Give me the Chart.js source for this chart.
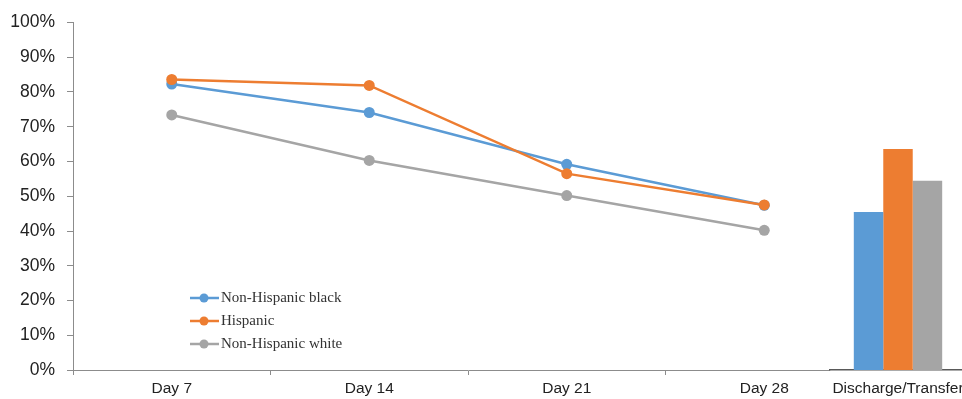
<!DOCTYPE html>
<html>
<head>
<meta charset="utf-8">
<script src="https://cdn.jsdelivr.net/npm/chart.js@4.4.1/dist/chart.umd.min.js"></script>
<style>
  html, body { margin: 0; padding: 0; background: #fff; overflow: hidden; }
  #wrap { position: relative; width: 962px; height: 399px; overflow: hidden; }
  #lineBox { position: absolute; left: 0; top: 0; }
  #barBox { position: absolute; left: 819px; top: 0; }
</style>
</head>
<body>
<div id="wrap">
  <div id="lineBox"><canvas id="lineChart" width="962" height="399"></canvas></div>
  <div id="barBox"><canvas id="barChart" width="158" height="399"></canvas></div>
</div>
<script>
// --- DATA ---
const days = ['Day 7', 'Day 14', 'Day 21', 'Day 28'];
const seriesNames = ['Non-Hispanic black', 'Hispanic', 'Non-Hispanic white'];
const seriesColors = ['#5B9BD5', '#ED7D31', '#A5A5A5'];
const blackValues = [82.3, 74.1, 59.2, 47.4];
const hispanicValues = [83.6, 81.9, 56.5, 47.5];
const whiteValues = [73.4, 60.3, 50.2, 40.2];
const dischargeLabels = ['Discharge/Transfer'];
const dischargeBlack = [45.4];
const dischargeHispanic = [63.5];
const dischargeWhite = [54.4];

const SANS = '"Liberation Sans", Arial, sans-serif';
const SERIF = '"Liberation Serif", "Times New Roman", serif';
const AXIS = '#8c8c8c';

Chart.defaults.animation = false;
Chart.defaults.font.family = SANS;
Chart.defaults.color = '#222';

// --- LEGEND (line + dot, inside plot area) ---
const lineLegend = {
    id: 'lineLegend',
    afterDraw(chart) {
        const ctx = chart.ctx;
        const x0 = 190, y0 = 298, gap = 23;
        ctx.save();
        chart.data.datasets.forEach((ds, i) => {
            const y = y0 + i * gap;
            ctx.strokeStyle = ds.borderColor;
            ctx.lineWidth = 2.5;
            ctx.beginPath();
            ctx.moveTo(x0, y);
            ctx.lineTo(x0 + 29, y);
            ctx.stroke();
            ctx.fillStyle = ds.borderColor;
            ctx.beginPath();
            ctx.arc(x0 + 14, y, 4.5, 0, Math.PI * 2);
            ctx.fill();
            ctx.fillStyle = '#333';
            ctx.font = '15px ' + SERIF;
            ctx.textBaseline = 'middle';
            ctx.fillText(ds.label, x0 + 31, y);
        });
        ctx.restore();
    }
};

// white panel behind the bar chart so the line chart's axis stops there
const whitePanel = {
    id: 'whitePanel',
    beforeDraw(chart) {
        const ctx = chart.ctx;
        ctx.save();
        ctx.fillStyle = '#fff';
        ctx.fillRect(chart.chartArea.left, 0, chart.width - chart.chartArea.left, chart.height);
        ctx.restore();
    }
};

function lineSet(label, data, color, order) {
    return {
        label: label,
        data: data,
        borderColor: color,
        backgroundColor: color,
        borderWidth: 2.5,
        pointRadius: 5.5,
        pointBorderWidth: 0,
        order: order
    };
}

// --- LINE CHART ---
new Chart(document.getElementById('lineChart'), {
    type: 'line',
    data: {
        labels: days,
        datasets: [
            lineSet(seriesNames[0], blackValues, seriesColors[0], 1),
            lineSet(seriesNames[1], hispanicValues, seriesColors[1], 0),
            lineSet(seriesNames[2], whiteValues, seriesColors[2], 2)
        ]
    },
    options: {
        responsive: false,
        layout: { padding: { top: 22, right: 99, left: 0, bottom: 0 } },
        plugins: { legend: { display: false }, tooltip: { enabled: false } },
        scales: {
            y: {
                min: 0, max: 100,
                ticks: { stepSize: 10, callback: v => v + '%', font: { size: 17.5 }, color: '#222', padding: 12 },
                grid: { drawOnChartArea: false, tickLength: 6, color: AXIS },
                border: { color: AXIS, width: 1 },
                afterFit: s => { s.width = 73; }
            },
            x: {
                offset: true,
                ticks: { font: { size: 15.5 }, color: '#222', padding: 4, maxRotation: 0 },
                grid: { offset: true, drawOnChartArea: false, tickLength: 5, color: AXIS },
                border: { color: AXIS, width: 1 },
                afterFit: s => { s.height = 29; }
            }
        }
    },
    plugins: [lineLegend]
});

// --- BAR CHART (discharge / transfer) ---
new Chart(document.getElementById('barChart'), {
    type: 'bar',
    data: {
        labels: dischargeLabels,
        datasets: [
            { label: seriesNames[0], data: dischargeBlack, backgroundColor: seriesColors[0] },
            { label: seriesNames[1], data: dischargeHispanic, backgroundColor: seriesColors[1] },
            { label: seriesNames[2], data: dischargeWhite, backgroundColor: seriesColors[2] }
        ]
    },
    options: {
        responsive: false,
        layout: { padding: { top: 22, right: 10, left: 10, bottom: 0 } },
        datasets: { bar: { categoryPercentage: 0.652, barPercentage: 1.0 } },
        plugins: { legend: { display: false }, tooltip: { enabled: false } },
        scales: {
            y: { display: false, min: 0, max: 100 },
            x: {
                ticks: { font: { size: 15.5 }, color: '#222', padding: 9, maxRotation: 0, autoSkip: false },
                grid: { drawOnChartArea: false, drawTicks: false },
                border: { color: '#595959', width: 1.5 },
                afterFit: s => { s.height = 29; }
            }
        }
    },
    plugins: [whitePanel]
});
</script>
</body>
</html>
